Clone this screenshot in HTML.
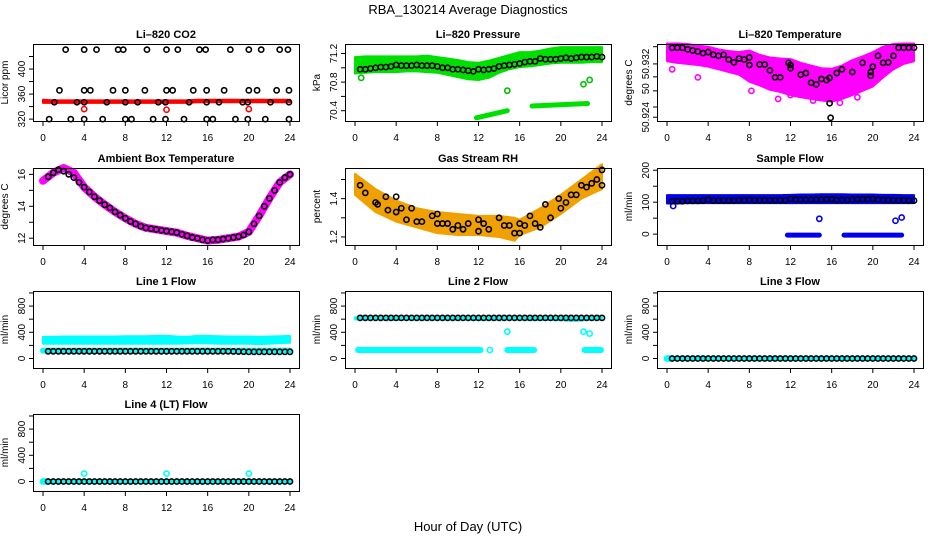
<!DOCTYPE html>
<html><head><meta charset="utf-8"><title>RBA_130214 Average Diagnostics</title>
<style>
html,body{margin:0;padding:0;background:#fff;}
svg{display:block;font-family:"Liberation Sans",Arial,sans-serif;}
</style></head>
<body>
<svg id="chart" width="936" height="540" viewBox="0 0 936 540">
<rect x="0" y="0" width="936" height="540" fill="#fff"/>
<text x="468" y="14" font-size="13" text-anchor="middle">RBA_130214  Average Diagnostics</text>
<text x="468" y="531" font-size="13" text-anchor="middle">Hour of Day (UTC)</text>
</svg>
<script>
// ---------- data ----------
const xTicks = [0,4,8,12,16,20,24];
const hours = [0,1,2,3,4,5,6,7,8,9,10,11,12,13,14,15,16,17,18,19,20,21,22,23,24];
const halfHours = [0.5,1,1.5,2,2.5,3,3.5,4,4.5,5,5.5,6,6.5,7,7.5,8,8.5,9,9.5,10,10.5,11,11.5,12,12.5,13,13.5,14,14.5,15,15.5,16,16.5,17,17.5,18,18.5,19,19.5,20,20.5,21,21.5,22,22.5,23,23.5,24];

// CO2
const co2RedLo = [346,346,346,346,346,346,346,346,346,346,346,346,346,346,346,347,347,347,347,347,347,347,347,347,347];
const co2RedHi = [351,350,350,350,350,350,350,350,350,350,350,350,350,350,350,351,351,351,351,351,351,351,351,351,351];
const co2RedOutX = [4,12,20];
const co2RedOutY = [336,335,336];
const co2BlackX = [2.2,4,5.2,7.3,7.8,10.1,12,13.1,15.2,15.8,18.2,20,21.2,23,23.8,
  1.6,4,4.6,6.8,8,9.9,12,12.6,14.6,15.9,17.6,20,20.8,22.7,23.9,
  1.1,3.3,4,6.2,8,9.2,11.2,11.9,14.2,15.9,17.1,19.4,19.9,22.1,23.9,
  0.6,2.7,4,5.8,8,8.6,10.7,11.9,13.7,15.9,16.5,18.7,19.9,21.6,23.9];
const co2BlackY = [431,431,431,431,431,431,431,431,431,431,431,431,431,431,431,
  366,366,366,366,366,366,366,366,366,366,366,366,366,366,366,
  347,347,347,347,347,347,347,347,347,347,347,347,347,347,347,
  320,320,320,320,320,320,320,320,320,320,320,320,320,320,320];

// Pressure
const presHi = [71.15,71.16,71.16,71.16,71.16,71.16,71.16,71.17,71.15,71.13,71.11,71.08,71.07,71.10,71.14,71.18,71.22,71.22,71.24,71.27,71.29,71.29,71.29,71.29,71.29];
const presLo = [70.92,70.93,70.94,70.94,70.94,70.95,70.95,70.94,70.93,70.90,70.87,70.84,70.83,70.86,70.93,70.98,71.01,71.02,71.04,71.06,71.07,71.07,71.07,71.08,71.08];
const presBlack = [70.98,70.98,70.99,71.0,71.01,71.01,71.02,71.04,71.03,71.03,71.03,71.04,71.03,71.03,71.03,71.02,71.0,71.0,70.98,70.98,70.97,70.96,70.95,70.98,70.97,70.98,70.99,71.02,71.03,71.04,71.05,71.06,71.08,71.09,71.09,71.13,71.12,71.12,71.12,71.13,71.14,71.13,71.14,71.15,71.15,71.15,71.16,71.15];
const presSegStart = [11.8,17.2];
const presSegEnd = [14.8,22.6];
const presSegV0 = [70.30,70.465];
const presSegV1 = [70.40,70.50];
const presOutX = [14.8,22.2,22.8,0.6];
const presOutY = [70.68,70.77,70.83,70.86];

// Li-820 temperature
const tempHi = [50.9358,50.9358,50.9357,50.9354,50.9352,50.9347,50.9344,50.9342,50.9345,50.9337,50.9332,50.9330,50.9329,50.9322,50.9317,50.9312,50.9311,50.9317,50.9327,50.9334,50.9342,50.9352,50.9357,50.9358,50.9358];
const tempLo = [50.9325,50.9322,50.9320,50.9318,50.9315,50.9310,50.9305,50.9300,50.9287,50.9280,50.9272,50.9268,50.9262,50.9258,50.9255,50.9252,50.9250,50.9255,50.9262,50.9270,50.9278,50.9295,50.9310,50.9320,50.9325];
const tempOutX = [0.5,3,10.8,12,16.8,18.5,8.2,14.2];
const tempOutY = [50.9310,50.9295,50.9255,50.9262,50.9248,50.9258,50.9270,50.9252];
const tempBlackX = [0.5,1,1.5,2,2.5,3,3.5,4,4.5,5,5.5,6,6.5,7,7.5,8,8,9,9.5,10,10.5,11,11.8,12,12,13,13.5,14,14.5,15,15.5,15.8,15.8,15.9,16.5,17,18,19,19.8,19.8,20,20.5,21,21.5,22,22.5,23,23.5,24];
const tempBlackY = [50.9350,50.9350,50.9350,50.9347,50.9345,50.9343,50.9340,50.9342,50.9337,50.9335,50.9337,50.9328,50.9323,50.9330,50.9328,50.9318,50.9332,50.9319,50.9319,50.9308,50.9295,50.9295,50.9322,50.9312,50.9318,50.9300,50.9303,50.9285,50.9282,50.9292,50.9290,50.9294,50.9247,50.9220,50.9303,50.9310,50.9305,50.9322,50.9305,50.9298,50.9315,50.9335,50.9322,50.9323,50.9335,50.9350,50.9350,50.9350,50.9350];

// Ambient box temperature
const ambCurve = [15.6,16.1,16.4,16.1,15.2,14.6,14.1,13.65,13.25,12.9,12.65,12.55,12.45,12.35,12.15,12.0,11.85,11.9,12.0,12.1,12.4,13.4,14.5,15.5,16.0];
const ambBlack = [15.85,16.1,16.3,16.2,16.0,15.8,15.5,15.2,14.9,14.6,14.35,14.1,13.9,13.65,13.45,13.25,13.05,12.9,12.75,12.65,12.6,12.55,12.5,12.45,12.4,12.35,12.25,12.15,12.05,12.0,11.9,11.85,11.9,11.9,11.95,12.0,12.05,12.1,12.2,12.4,12.9,13.4,14.0,14.5,15.0,15.5,15.8,16.0];

// Gas stream RH
const rhBandH = [0,2,4,6,8,10,12,14,15.5,16,18,20,22,24];
const rhHi = [1.53,1.45,1.39,1.35,1.33,1.32,1.31,1.31,1.30,1.29,1.35,1.42,1.50,1.58];
const rhLo = [1.42,1.33,1.28,1.25,1.22,1.21,1.21,1.20,1.18,1.21,1.25,1.32,1.40,1.45];
const rhBlackX = [0.5,1,2,2.2,3,3.2,4,4,4.5,5,5.5,6,6.5,7.5,8,8,8.5,9,9.5,10,10.5,11,12,12,12.5,13,14,14.5,15,15.5,16,16,16.5,17,17.5,18,18.5,19,19.8,20,20.5,21,21.5,22,22.5,23,23.5,24,24];
const rhBlackY = [1.47,1.43,1.38,1.37,1.41,1.34,1.33,1.41,1.35,1.29,1.35,1.28,1.28,1.31,1.27,1.32,1.27,1.27,1.24,1.26,1.24,1.27,1.23,1.29,1.27,1.24,1.30,1.26,1.26,1.22,1.22,1.27,1.26,1.31,1.27,1.25,1.37,1.30,1.40,1.35,1.38,1.42,1.42,1.47,1.46,1.48,1.50,1.55,1.47];

// Sample flow
const sampleHi = [122,122,122,122,122,122,122,122,122,122,122,122,123,124,124,125,125,125,124,124,124,123,123,122,122];
const sampleLo = [96,96,97,97,97,97,97,97,97,97,97,97,97,97,97,97,97,97,97,97,97,97,97,97,97];
const sampleBlack = [103,103,103,104,104,104,105,108,105,105,105,105,105,106,106,107,106,106,106,106,106,106,106,110,108,108,108,108,108,108,109,109,107,107,107,108,109,109,109,110,108,107,107,106,106,106,105,105];
const sampleSegStart = [11.7,17.2];
const sampleSegEnd = [14.8,22.8];
const sampleSegVal = [-3,-3];
const sampleOutX = [14.8,22.2,22.8,0.6];
const sampleOutY = [48,42,52,88];

// Line flows
const line1Hi = [330,330,335,335,335,335,335,335,340,340,340,345,345,335,330,345,345,340,335,335,335,330,335,340,345];
const line1Lo = [225,225,225,225,225,225,225,225,225,225,225,225,225,225,230,230,230,225,225,225,225,220,225,235,240];
const line1CyanLow = [120,120,120,120,120,120,120,120,120,120,120,120,120,120,120,120,120,120,120,120,120,120,120,120,120];
const line1Black = [110,110,110,110,110,110,110,110,110,110,110,110,110,110,110,110,110,110,110,110,110,110,110,110,110,110,110,110,110,110,110,110,110,110,110,110,108,106,104,102,102,102,102,102,102,102,102,102];
const line2Hi = [630,630,630,630,630,630,630,630,630,630,630,630,630,630,630,630,630,630,630,630,630,630,630,630,630];
const line2Lo = [595,595,595,595,590,595,595,595,595,595,595,595,585,595,595,595,595,590,590,590,585,575,580,595,600];
const line2Black = [620,620,620,620,620,620,620,620,620,620,620,620,620,620,620,620,620,620,620,620,620,620,620,620,620,620,620,620,620,620,620,620,620,620,620,620,620,620,620,620,620,620,620,620,620,620,620,620];
const line2SegStart = [0.3,14.8,22.3];
const line2SegEnd = [12.2,17.4,23.9];
const line2SegVal = [130,130,130];
const line2OutX = [13.1,14.8,22.2,22.8];
const line2OutY = [130,410,410,380];
const line3Black = [0,0,0,0,0,0,0,0,0,0,0,0,0,0,0,0,0,0,0,0,0,0,0,0,0,0,0,0,0,0,0,0,0,0,0,0,0,0,0,0,0,0,0,0,0,0,0,0];
const line3CyanX = [0,0.2];
const line3CyanY = [0,0];
const line4Black = [0,0,0,0,0,0,0,0,0,0,0,0,0,0,0,0,0,0,0,0,0,0,0,0,0,0,0,0,0,0,0,0,0,0,0,0,0,0,0,0,0,0,0,0,0,0,0,0];
const line4CyanX = [0,0.2,4,12,20];
const line4CyanY = [0,0,120,120,120];

// ---------- drawing ----------
const svg = document.getElementById('chart');
const NS = 'http://www.w3.org/2000/svg';
const COLS = [33,345,657], ROWS = [44,168,291,414], PW = 266, PH = 77;
function mk(tag, attrs, parent){
  const e = document.createElementNS(NS, tag);
  for (const k in attrs) e.setAttribute(k, attrs[k]);
  (parent||svg).appendChild(e);
  return e;
}
function panel(c, r, name, title, ylab, y0, y1, ticks, labVals, labTxt){
  const L = COLS[c], T = ROWS[r];
  const g = mk('g', {});
  
  
  const sx = h => L + 10 + h * (247/24);
  const sy = v => T + PH - (v - y0) / (y1 - y0) * PH;
  const t = mk('text', {x: L + PW/2, y: T - 6, 'font-size': 11, 'font-weight': 'bold', 'text-anchor': 'middle'}, g);
  t.textContent = title;
  
  
  const yl = mk('text', {x: 0, y: 0, 'font-size': 10, 'text-anchor': 'middle', transform: `translate(${L-25},${T+PH/2}) rotate(-90)`}, g);
  yl.textContent = ylab;
  
  
  const data = mk('g', {}, g);
  
  
  const ax = mk('g', {stroke: '#000', 'stroke-width': 1, fill: 'none'}, g);
  
  
  mk('rect', {x: L + 0.5, y: T + 0.5, width: PW, height: PH}, ax);
  xTicks.forEach(h => {
    mk('line', {x1: sx(h), x2: sx(h), y1: T + PH, y2: T + PH + 5}, ax);
    const tx = mk('text', {x: sx(h), y: T + PH + 20, 'font-size': 10, 'text-anchor': 'middle', stroke: 'none', fill: '#000'}, g);
    tx.textContent = h;
    
    
  });
  ticks.forEach(v => { mk('line', {x1: L - 4, x2: L, y1: sy(v), y2: sy(v)}, ax); });
  labVals.forEach((v, i) => {
    const ty = mk('text', {x: 0, y: 0, 'font-size': 10, 'text-anchor': 'middle', transform: `translate(${L-8},${sy(v)}) rotate(-90)`}, g);
    ty.textContent = labTxt[i];
    
    
  });
  return {sx, sy, g: data};
}
function band(p, xs, lo, hi, color, name){
  let d = 'M' + xs.map((h,i) => p.sx(h) + ',' + p.sy(hi[i])).join('L');
  for (let i = xs.length - 1; i >= 0; i--) d += 'L' + p.sx(xs[i]) + ',' + p.sy(lo[i]);
  const e = mk('path', {d: d + 'Z', fill: color, stroke: color, 'stroke-width': 2, 'stroke-linejoin': 'round'}, p.g);
  
  
}
function seg(p, x0, x1, v0, v1, color, w, name){
  const e = mk('line', {x1: p.sx(x0), x2: p.sx(x1), y1: p.sy(v0), y2: p.sy(v1), stroke: color, 'stroke-width': w, 'stroke-linecap': 'round'}, p.g);
  
  
}
function pts(p, xs, ys, color, name){
  xs.forEach((h, i) => {
    const c = mk('circle', {cx: p.sx(h), cy: p.sy(ys[i]), r: 2.6, fill: 'none', stroke: color, 'stroke-width': 1.6}, p.g);
    
    
  });
}

// Panel 1: CO2
let p = panel(0,0,'co2','Li\u2013820 CO2','Licor ppm',317,440,[320,340,360,380,400,420],[320,360,400],['320','360','400']);
band(p, hours, co2RedLo, co2RedHi, '#ff0000', 'co2-red-cloud');
pts(p, co2RedOutX, co2RedOutY, '#ff0000', 'co2-red-point');
pts(p, co2BlackX, co2BlackY, '#000', 'co2-mean-point');

// Panel 2: Pressure
p = panel(1,0,'pressure','Li\u2013820 Pressure','kPa',70.256,71.333,[70.4,70.6,70.8,71.0,71.2],[70.4,70.8,71.2],['70.4','70.8','71.2']);
band(p, hours, presLo, presHi, '#00e000', 'pressure-green-cloud');
presSegStart.forEach((s,i) => seg(p, s, presSegEnd[i], presSegV0[i], presSegV1[i], '#00e000', 5, 'pressure-low-segment'));
pts(p, presOutX, presOutY, '#00c000', 'pressure-green-point');
pts(p, halfHours, presBlack, '#000', 'pressure-mean-point');

// Panel 3: Li-820 temperature
p = panel(2,0,'li820-temp','Li\u2013820 Temperature','degrees C',50.9214,50.9357,[50.9352,50.932,50.9296,50.927,50.924,50.9221],[50.9221,50.9274,50.932],['50.924','50','50.932']);
band(p, hours, tempLo, tempHi, '#ff00ff', 'li820-temp-cloud');
pts(p, tempOutX, tempOutY, '#ff00ff', 'li820-temp-magenta-point');
pts(p, tempBlackX, tempBlackY, '#000', 'li820-temp-mean-point');

// Panel 4: Ambient
p = panel(0,1,'ambient-temp','Ambient Box Temperature','degrees C',11.575,16.4,[12,13,14,15,16],[12,14,16],['12','14','16']);
{
  const e = mk('polyline', {points: hours.map((h,i) => p.sx(h) + ',' + p.sy(ambCurve[i])).join(' '), fill: 'none', stroke: '#ff00ff', 'stroke-width': 8, 'stroke-linejoin': 'round', 'stroke-linecap': 'round'}, p.g);
  
  
}
pts(p, halfHours, ambBlack, '#000', 'ambient-temp-mean-point');

// Panel 5: RH
p = panel(1,1,'gas-rh','Gas Stream RH','percent',1.158,1.56,[1.2,1.3,1.4,1.5],[1.2,1.4],['1.2','1.4']);
band(p, rhBandH, rhLo, rhHi, '#f0a000', 'gas-rh-cloud');
pts(p, rhBlackX, rhBlackY, '#000', 'gas-rh-mean-point');

// Panel 6: Sample flow
p = panel(2,1,'sample-flow','Sample Flow','ml/min',-34,207,[0,50,100,150,200],[0,100,200],['0','100','200']);
band(p, hours, sampleLo, sampleHi, '#0000ee', 'sample-flow-cloud');
sampleSegStart.forEach((s,i) => seg(p, s, sampleSegEnd[i], sampleSegVal[i], sampleSegVal[i], '#0000ee', 5, 'sample-flow-zero-segment'));
pts(p, sampleOutX, sampleOutY, '#0000ee', 'sample-flow-blue-point');
pts(p, halfHours, sampleBlack, '#000', 'sample-flow-mean-point');

const flowTicks = [0,200,400,600,800,1000], flowLab = [0,400,800], flowTxt = ['0','400','800'];
// Line 1
p = panel(0,2,'line1-flow','Line 1 Flow','ml/min',-145,1030,flowTicks,flowLab,flowTxt);
band(p, hours, line1Lo, line1Hi, '#00ffff', 'line1-cyan-cloud');
seg(p, 0, 24, line1CyanLow[0], line1CyanLow[24], '#00ffff', 6, 'line1-cyan-low');
pts(p, halfHours, line1Black, '#000', 'line1-mean-point');
// Line 2
p = panel(1,2,'line2-flow','Line 2 Flow','ml/min',-145,1030,flowTicks,flowLab,flowTxt);
band(p, hours, line2Lo, line2Hi, '#00ffff', 'line2-cyan-cloud');
line2SegStart.forEach((s,i) => seg(p, s, line2SegEnd[i], line2SegVal[i], line2SegVal[i], '#00ffff', 6, 'line2-cyan-low-segment'));
pts(p, line2OutX, line2OutY, '#00ffff', 'line2-cyan-point');
pts(p, halfHours, line2Black, '#000', 'line2-mean-point');
// Line 3
p = panel(2,2,'line3-flow','Line 3 Flow','ml/min',-145,1030,flowTicks,flowLab,flowTxt);
seg(p, 0, 24, 0, 0, '#00ffff', 5, 'line3-cyan-line');
pts(p, line3CyanX, line3CyanY, '#00ffff', 'line3-cyan-point');
pts(p, halfHours, line3Black, '#000', 'line3-mean-point');
// Line 4
p = panel(0,3,'line4-flow','Line 4 (LT) Flow','ml/min',-145,1030,flowTicks,flowLab,flowTxt);
seg(p, 0, 24, 0, 0, '#00ffff', 5, 'line4-cyan-line');
pts(p, line4CyanX, line4CyanY, '#00ffff', 'line4-cyan-point');
pts(p, halfHours, line4Black, '#000', 'line4-mean-point');
</script>
</body></html>
